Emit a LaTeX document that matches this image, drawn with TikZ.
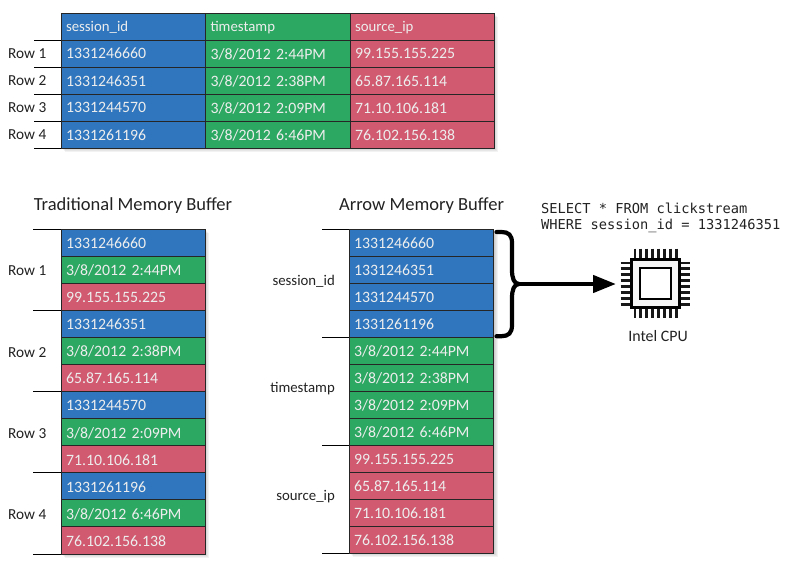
\documentclass[tikz,border=0pt]{standalone}
\usepackage{fontspec}
\setmainfont{Carlito}
\setmonofont{DejaVu Sans Mono}
\usetikzlibrary{arrows.meta}
\definecolor{cblue}{HTML}{2F76BE}
\definecolor{cgreen}{HTML}{2CA862}
\definecolor{cred}{HTML}{D15A70}
\definecolor{ctext}{HTML}{222222}
\tikzset{
  cellbase/.style={draw=black!85,line width=0.9pt,outer sep=0pt,minimum width=#1,minimum height=27.08pt,inner sep=0pt,anchor=north west,text=white!93!black,font=\fontsize{15.8}{18}\selectfont,align=left,text width=#1-10pt,text depth=0pt},
  bcell/.style={cellbase=144.5pt,fill=cblue},
  gcell/.style={cellbase=144.5pt,fill=cgreen},
  rcell/.style={cellbase=144.5pt,fill=cred},
  hfont/.style={font=\fontsize{14.8}{18}\selectfont},
  lab/.style={text=ctext,font=\fontsize{15.3}{18}\selectfont,inner sep=0pt},
  sublab/.style={lab,font=\fontsize{14.8}{18}\selectfont},
  ttl/.style={text=ctext,font=\fontsize{18.5}{22}\selectfont,inner sep=0pt},
  mono/.style={text=ctext,font=\ttfamily\fontsize{13.7}{16}\selectfont,inner sep=0pt,anchor=west},
  tick/.style={black,line width=0.9pt},
  softshadow/.style={fill=black,opacity=0.05,draw=none},
  pin/.style={black!90,line width=2.7pt},
  brace/.style={black,line width=4.2pt,line cap=round},
}
\begin{document}
\begin{tikzpicture}[x=1pt,y=-1pt]
\useasboundingbox (0,0) rectangle (790,567);
% soft shadows
\foreach \a/\b/\c/\d in {61/13/494/148,61/229/205/554,349/229/494/553}{
  \foreach \e in {1,2,3,4}{\fill[softshadow] (\a+\e,\b+\e) rectangle (\c+\e,\d+\e);}
}
% top table
\node[bcell,hfont] (th1) at (61,13) {session\_id};
\node[gcell,hfont] (th2) at (205.5,13) {timestamp};
\node[rcell,hfont] (th3) at (350,13) {source\_ip};
\foreach \n/\y/\s/\t/\i in {1/40.08/1331246660/{3/8/2012 2:44PM}/99.155.155.225,
                            2/67.16/1331246351/{3/8/2012 2:38PM}/65.87.165.114,
                            3/94.24/1331244570/{3/8/2012 2:09PM}/71.10.106.181,
                            4/121.32/1331261196/{3/8/2012 6:46PM}/76.102.156.138}{
  \node[bcell] (ta\n) at (61,\y) {\s};
  \node[gcell] (tb\n) at (205.5,\y) {\t};
  \node[rcell] (tc\n) at (350,\y) {\i};
  \coordinate (tt\n) at (34,\y);
  \draw[tick] (tt\n) -- (ta\n.north west);
  \node[lab,anchor=west] (tl\n) at (8,\y+13.5) {Row \n};
}
\coordinate (tt5) at (ta4.south west -| tt4);
\draw[tick] (tt5) -- (ta4.south west);
% titles
\node[ttl] (t1) at (133,205.5) {Traditional Memory Buffer};
\node[ttl] (t2) at (421.5,205.5) {Arrow Memory Buffer};
% traditional
\foreach \n/\sty/\txt in {0/bcell/1331246660,1/gcell/{3/8/2012 2:44PM},2/rcell/99.155.155.225,
 3/bcell/1331246351,4/gcell/{3/8/2012 2:38PM},5/rcell/65.87.165.114,
 6/bcell/1331244570,7/gcell/{3/8/2012 2:09PM},8/rcell/71.10.106.181,
 9/bcell/1331261196,10/gcell/{3/8/2012 6:46PM},11/rcell/76.102.156.138}{
  \node[\sty] (l\n) at (61,229+\n*27.08) {\raisebox{-1pt}{\txt}};
}
\coordinate (lt1) at (33,229);
\coordinate (lt2) at (l3.north west -| lt1);
\coordinate (lt3) at (l6.north west -| lt1);
\coordinate (lt4) at (l9.north west -| lt1);
\coordinate (lt5) at (l11.south west -| lt1);
\draw[tick] (lt1) -- (l0.north west);
\draw[tick] (lt2) -- (l3.north west);
\draw[tick] (lt3) -- (l6.north west);
\draw[tick] (lt4) -- (l9.north west);
\draw[tick] (lt5) -- (l11.south west);
\node[lab,anchor=west] (lr1) at (8,271) {Row 1};
\node[lab,anchor=west] (lr2) at (8,352.5) {Row 2};
\node[lab,anchor=west] (lr3) at (8,433.5) {Row 3};
\node[lab,anchor=west] (lr4) at (8,514.5) {Row 4};
% arrow buffer
\foreach \n/\sty/\txt in {0/bcell/1331246660,1/bcell/1331246351,2/bcell/1331244570,3/bcell/1331261196,
 4/gcell/{3/8/2012 2:44PM},5/gcell/{3/8/2012 2:38PM},6/gcell/{3/8/2012 2:09PM},7/gcell/{3/8/2012 6:46PM},
 8/rcell/99.155.155.225,9/rcell/65.87.165.114,10/rcell/71.10.106.181,11/rcell/76.102.156.138}{
  \node[\sty] (r\n) at (349,229+\n*27.04) {\raisebox{-1pt}{\txt}};
}
\coordinate (rt1) at (322,229);
\coordinate (rt2) at (r4.north west -| rt1);
\coordinate (rt3) at (r8.north west -| rt1);
\coordinate (rt4) at (r11.south west -| rt1);
\draw[tick] (rt1) -- (r0.north west);
\draw[tick] (rt2) -- (r4.north west);
\draw[tick] (rt3) -- (r8.north west);
\draw[tick] (rt4) -- (r11.south west);
\node[sublab,anchor=east] (rl1) at (335,281) {session\_id};
\node[sublab,anchor=east] (rl2) at (335,389) {timestamp};
\node[sublab,anchor=east] (rl3) at (335,497) {source\_ip};
% query
\node[mono] (q1) at (541,208) {SELECT * FROM clickstream};
\node[mono] (q2) at (541,226) {WHERE session\_id = 1331246351};
% chip pins, then body
\node[draw=black,fill=black!4,line width=2.8pt,minimum size=48pt,inner sep=0pt] (chip) at (655.5,283.5) {};
\node[draw=black,fill=white,line width=2.8pt,minimum size=31pt,inner sep=0pt] (core) at (655.5,283.5) {};
\foreach \k in {-3.5,-2.5,...,3.5}{
  \draw[pin] (chip.north)++(\k*5.9,-9.5) -- ++(0,9.5);
  \draw[pin] (chip.south)++(\k*5.9,0) -- ++(0,9.5);
  \draw[pin] (chip.west)++(-9.5,\k*5.9) -- ++(9.5,0);
  \draw[pin] (chip.east)++(0,\k*5.9) -- ++(9.5,0);
}
\node[lab,font=\fontsize{15.9}{18}\selectfont] (cpu) at (658,336) {Intel CPU};
% brace
\coordinate (bj) at (519,284);
\draw[brace] (r0.north east)++(3,3) -- ++(5,0) .. controls +(7,0) and (512,235) .. (512,243) -- (512,270) .. controls (512,278) and (514,284) .. (bj);
\draw[brace] (r3.south east)++(3,-1) -- ++(5,0) .. controls +(7,0) and (512,333) .. (512,325) -- (512,298) .. controls (512,290) and (514,284) .. (bj);
\draw[black,line width=4.4pt,-{Triangle[length=23pt,width=17pt]}] (bj) -- (616,284);
\end{tikzpicture}
\end{document}
